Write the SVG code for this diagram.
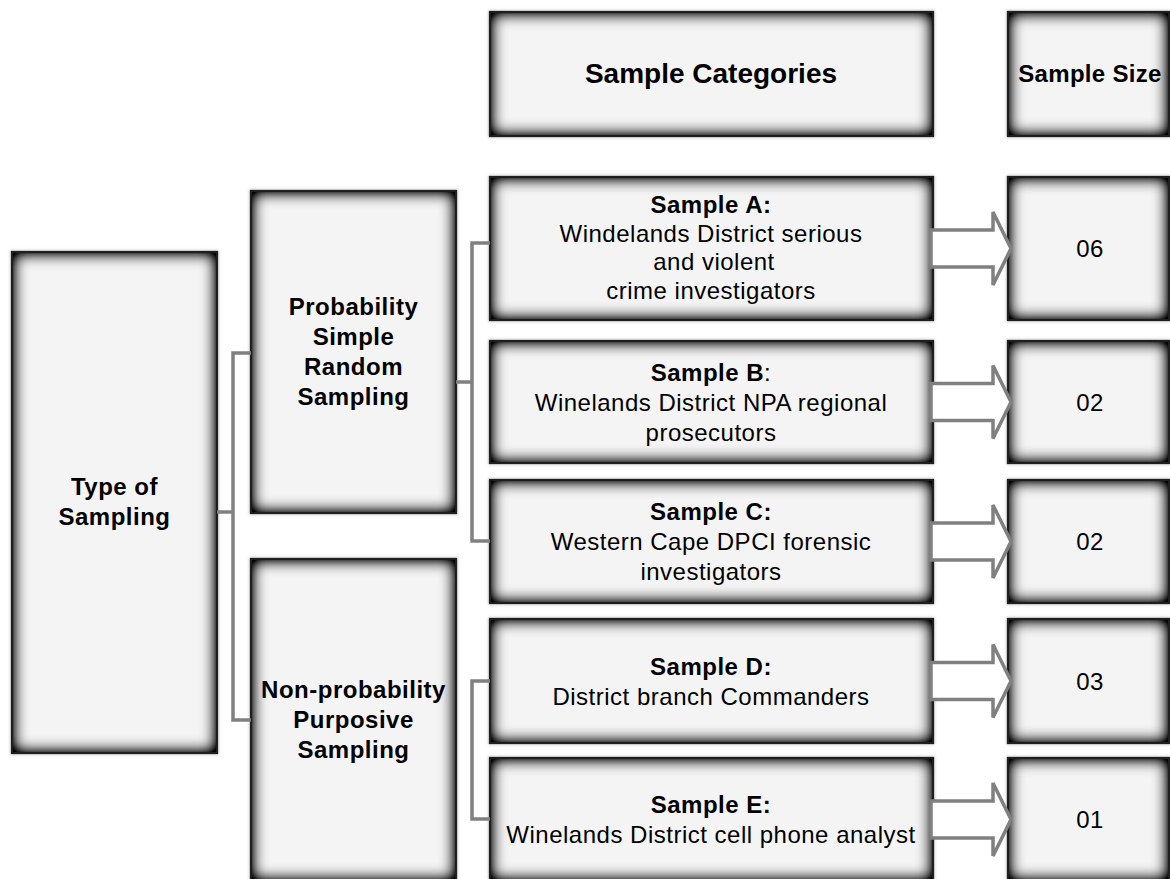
<svg xmlns="http://www.w3.org/2000/svg" width="1170" height="879" viewBox="0 0 1170 879">
<defs>
<filter id="inset" x="-50%" y="-50%" width="200%" height="200%" color-interpolation-filters="sRGB">
<feFlood flood-color="#000" flood-opacity="1"/>
<feComposite in2="SourceAlpha" operator="out"/>
<feGaussianBlur stdDeviation="8"/>
<feComponentTransfer><feFuncA type="linear" slope="1.6"/></feComponentTransfer>
<feComposite in2="SourceAlpha" operator="in" result="sh"/>
<feMerge><feMergeNode in="SourceGraphic"/><feMergeNode in="sh"/></feMerge>
</filter>
<filter id="halo" x="-10%" y="-10%" width="120%" height="120%">
<feGaussianBlur stdDeviation="1.5"/>
</filter>
</defs>
<style>
.bx{fill:#f4f4f4;filter:url(#inset)}
.bd{fill:none;stroke:#1e1e1e;stroke-width:2.2}
.hl{fill:none;stroke:#bbb;stroke-width:3;filter:url(#halo)}
.b{font-family:"Liberation Sans",Arial,sans-serif;font-weight:bold;font-size:24px;letter-spacing:0.5px;fill:#000;text-anchor:middle}
.r{font-family:"Liberation Sans",Arial,sans-serif;font-size:24px;letter-spacing:0.5px;fill:#000;text-anchor:middle}
.n{font-weight:normal}
.ln{fill:none;stroke:#808080;stroke-width:3.5}
.ar{fill:#fff;stroke:#808080;stroke-width:3.5;stroke-linejoin:miter}
</style>
<rect width="1170" height="879" fill="#fff"/>

<g id="header-categories">
<rect class="hl" x="490" y="12" width="443" height="124"/>
<rect class="bx" x="490" y="12" width="443" height="124"/>
<rect class="bd" x="490" y="12" width="443" height="124"/>
<text class="b" x="711" y="83" style="font-size:28px;letter-spacing:0">Sample Categories</text>
</g>
<g id="header-size">
<rect class="hl" x="1008" y="12" width="161" height="124"/>
<rect class="bx" x="1008" y="12" width="161" height="124"/>
<rect class="bd" x="1008" y="12" width="161" height="124"/>
<text class="b" x="1090" y="82" style="letter-spacing:0.3px">Sample Size</text>
</g>

<g id="type-of-sampling">
<rect class="hl" x="12" y="252" width="205" height="501"/>
<rect class="bx" x="12" y="252" width="205" height="501"/>
<rect class="bd" x="12" y="252" width="205" height="501"/>
<text class="b" x="114.5" y="495">Type of</text>
<text class="b" x="114.5" y="525">Sampling</text>
</g>

<g id="probability">
<rect class="hl" x="251" y="191" width="205" height="322"/>
<rect class="bx" x="251" y="191" width="205" height="322"/>
<rect class="bd" x="251" y="191" width="205" height="322"/>
<text class="b" x="353.5" y="315">Probability</text>
<text class="b" x="353.5" y="345">Simple</text>
<text class="b" x="353.5" y="375">Random</text>
<text class="b" x="353.5" y="405">Sampling</text>
</g>

<g id="non-probability">
<rect class="hl" x="251" y="559" width="205" height="322"/>
<rect class="bx" x="251" y="559" width="205" height="322"/>
<rect class="bd" x="251" y="559" width="205" height="322"/>
<text class="b" x="353.5" y="698">Non-probability</text>
<text class="b" x="353.5" y="728">Purposive</text>
<text class="b" x="353.5" y="758">Sampling</text>
</g>

<g id="sample-a">
<rect class="hl" x="490" y="177" width="443" height="143"/>
<rect class="bx" x="490" y="177" width="443" height="143"/>
<rect class="bd" x="490" y="177" width="443" height="143"/>
<text class="b" x="711" y="213">Sample A:</text>
<text class="r" x="711" y="241.5">Windelands District serious</text>
<text class="r" x="714" y="270">and violent</text>
<text class="r" x="711" y="298.5">crime investigators</text>
</g>
<g id="sample-b">
<rect class="hl" x="490" y="341" width="443" height="122"/>
<rect class="bx" x="490" y="341" width="443" height="122"/>
<rect class="bd" x="490" y="341" width="443" height="122"/>
<text class="b" x="711" y="381">Sample B<tspan class="n">:</tspan></text>
<text class="r" x="711" y="411">Winelands District NPA regional</text>
<text class="r" x="711" y="441">prosecutors</text>
</g>
<g id="sample-c">
<rect class="hl" x="490" y="480" width="443" height="123"/>
<rect class="bx" x="490" y="480" width="443" height="123"/>
<rect class="bd" x="490" y="480" width="443" height="123"/>
<text class="b" x="711" y="520">Sample C:</text>
<text class="r" x="711" y="550">Western Cape DPCI forensic</text>
<text class="r" x="711" y="580">investigators</text>
</g>
<g id="sample-d">
<rect class="hl" x="490" y="619" width="443" height="124"/>
<rect class="bx" x="490" y="619" width="443" height="124"/>
<rect class="bd" x="490" y="619" width="443" height="124"/>
<text class="b" x="711" y="675">Sample D:</text>
<text class="r" x="711" y="705">District branch Commanders</text>
</g>
<g id="sample-e">
<rect class="hl" x="490" y="758" width="443" height="123"/>
<rect class="bx" x="490" y="758" width="443" height="123"/>
<rect class="bd" x="490" y="758" width="443" height="123"/>
<text class="b" x="711" y="813">Sample E:</text>
<text class="r" x="711" y="843">Winelands District cell phone analyst</text>
</g>

<g id="size-a">
<rect class="hl" x="1008" y="177" width="161" height="143"/>
<rect class="bx" x="1008" y="177" width="161" height="143"/>
<rect class="bd" x="1008" y="177" width="161" height="143"/>
<text class="r" x="1090" y="257">06</text>
</g>
<g id="size-b">
<rect class="hl" x="1008" y="341" width="161" height="122"/>
<rect class="bx" x="1008" y="341" width="161" height="122"/>
<rect class="bd" x="1008" y="341" width="161" height="122"/>
<text class="r" x="1090" y="411">02</text>
</g>
<g id="size-c">
<rect class="hl" x="1008" y="480" width="161" height="123"/>
<rect class="bx" x="1008" y="480" width="161" height="123"/>
<rect class="bd" x="1008" y="480" width="161" height="123"/>
<text class="r" x="1090" y="550">02</text>
</g>
<g id="size-d">
<rect class="hl" x="1008" y="619" width="161" height="124"/>
<rect class="bx" x="1008" y="619" width="161" height="124"/>
<rect class="bd" x="1008" y="619" width="161" height="124"/>
<text class="r" x="1090" y="690">03</text>
</g>
<g id="size-e">
<rect class="hl" x="1008" y="758" width="161" height="123"/>
<rect class="bx" x="1008" y="758" width="161" height="123"/>
<rect class="bd" x="1008" y="758" width="161" height="123"/>
<text class="r" x="1090" y="828">01</text>
</g>

<g id="connectors">
<path class="ln" d="M217,512 H233 M251,353 H233 V720 H251"/>
<path class="ln" d="M456,382 H472 M490,243 H472 V541 H490"/>
<path class="ln" d="M490,681 H472 V819 H490"/>
<path class="ar" d="M931,230 H993 V212 L1011,248.5 L993,285 V267 H931 Z"/>
<path class="ar" d="M931,383.5 H993 V365.5 L1011,402 L993,438.5 V420.5 H931 Z"/>
<path class="ar" d="M931,523 H993 V505 L1011,541.5 L993,578 V560 H931 Z"/>
<path class="ar" d="M931,662.5 H993 V644.5 L1011,681 L993,717.5 V699.5 H931 Z"/>
<path class="ar" d="M931,801 H993 V783 L1011,819.5 L993,856 V838 H931 Z"/>
</g>
</svg>
